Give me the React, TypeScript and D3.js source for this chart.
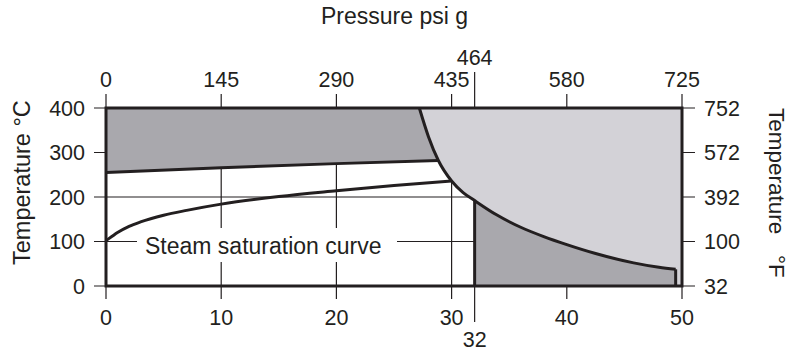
import React from "react";
import * as d3 from "d3";

// Pressure (bar g) ticks and their psi g equivalents
const barTicks = [0, 10, 20, 30, 40, 50];
const psiTickBars = [0, 10, 20, 30, 32, 40, 50];
const psiLabels = ["0", "145", "290", "435", "464", "580", "725"];
const bottomLabels = ["0", "10", "20", "30", "32", "40", "50"];
// Temperature ticks (°C) and their °F labels
const tempTicks = [0, 100, 200, 300, 400];
const fahrLabels = ["32", "100", "392", "572", "752"];

// Steam saturation curve (bar g, °C)
const saturation: [number, number][] = [
  [0, 102], [0.5, 111], [1, 120], [2, 134], [3, 144], [5, 159], [7, 170],
  [10, 184], [15, 201], [20, 214], [25, 226], [30, 236],
];
// Lower boundary of upper (superheat) band
const bandLower: [number, number][] = [
  [0, 255], [10, 266], [20, 275], [28.85, 282],
];
// Boundary curve (bar g, °C)
const boundary: [number, number][] = [
  [27.2, 400], [28.0, 335], [28.85, 282], [30, 236], [31, 210], [32, 192],
  [33.9, 160], [36, 132], [38, 111], [40, 93], [42.5, 73], [45.8, 52],
  [48, 42], [49.45, 37.5],
];

const W = 792, H = 361;
const INK = "#231f20";
const DARK = "#a9a8ad";
const LIGHT = "#d3d2d7";
const FONT = "'Liberation Sans', Arial, Helvetica, sans-serif";

export default function App() {
  const x = d3.scaleLinear().domain([0, 50]).range([106, 682]);
  const y = d3.scaleLinear().domain([0, 400]).range([286, 108]);
  const line = d3
    .line<[number, number]>()
    .x((d) => x(d[0]))
    .y((d) => y(d[1]))
    .curve(d3.curveMonotoneX);
  const poly = d3
    .line<[number, number]>()
    .x((d) => x(d[0]))
    .y((d) => y(d[1]));

  const bIdxBand = boundary.findIndex((d) => d[0] === 28.85);
  const bIdx32 = boundary.findIndex((d) => d[0] === 32);
  const last = boundary[boundary.length - 1];

  // Paths combining smooth curve segments
  const upperCurve = line(boundary.slice(0, bIdxBand + 1)) as string;
  const bandBack = line([...bandLower].reverse() as [number, number][]) as string;
  const bandPath =
    `M${x(0)},${y(400)}L${x(boundary[0][0])},${y(400)}` +
    upperCurve.replace(/^M[^CL]*/, "L" + x(boundary[0][0]) + "," + y(400)) +
    bandBack.replace(/^M/, "L") +
    "Z";

  const fullCurve = line(boundary) as string;
  const lightPath =
    fullCurve +
    `L${x(last[0])},${y(0)}L${x(50)},${y(0)}L${x(50)},${y(400)}Z`;

  const lowerCurve = line(boundary.slice(bIdx32)) as string;
  const darkLowPath =
    lowerCurve + `L${x(last[0])},${y(0)}L${x(32)},${y(0)}Z`;

  const grid = { stroke: INK, strokeWidth: 1.2 };
  const thick = { stroke: INK, strokeWidth: 3, fill: "none" };
  const txt = { fontFamily: FONT, fill: INK, fontSize: 21.5 };

  return (
    <svg
      width={W}
      height={H}
      style={{ position: "absolute", left: 0, top: 0, background: "#fff" }}
    >
      {/* gridlines and ticks */}
      {tempTicks.map((t) => (
        <line key={"h" + t} x1={94} x2={695} y1={y(t)} y2={y(t)} {...grid} />
      ))}
      {barTicks.map((b) => (
        <line key={"v" + b} x1={x(b)} x2={x(b)} y1={94} y2={299} {...grid} />
      ))}
      <line x1={x(32)} x2={x(32)} y1={72} y2={322} {...grid} />

      {/* fills */}
      <path d={lightPath} fill={LIGHT} />
      <path d={darkLowPath} fill={DARK} />
      <path d={bandPath} fill={DARK} />

      {/* label box */}
      <rect x={137} y={228} width={260} height={34} fill="#fff" />

      {/* curves */}
      <path d={line(bandLower) as string} {...thick} />
      <path d={line(saturation) as string} {...thick} />
      <path d={fullCurve} {...thick} />
      <line x1={x(32)} x2={x(32)} y1={y(boundary[bIdx32][1])} y2={y(0)} {...thick} />
      <line x1={x(last[0])} x2={x(last[0])} y1={y(last[1])} y2={y(0)} {...thick} />

      {/* frame */}
      <rect x={x(0)} y={y(400)} width={x(50) - x(0)} height={y(0) - y(400)} {...thick} />

      {/* texts */}
      <text x={394.5} y={24} textAnchor="middle" {...txt} fontSize={23}>
        Pressure psi g
      </text>
      {psiTickBars.map((b, i) => (
        <text
          key={"p" + b}
          x={x(b)}
          y={b === 32 ? 65 : 87}
          textAnchor="middle"
          {...txt}
        >
          {psiLabels[i]}
        </text>
      ))}
      {psiTickBars.map((b, i) => (
        <text
          key={"bb" + b}
          x={x(b)}
          y={b === 32 ? 347 : 325}
          textAnchor="middle"
          {...txt}
        >
          {bottomLabels[i]}
        </text>
      ))}
      {tempTicks.map((t) => (
        <text key={"lt" + t} x={85} y={y(t) + 7.5} textAnchor="end" {...txt}>
          {t}
        </text>
      ))}
      {tempTicks.map((t, i) => (
        <text key={"rt" + t} x={704} y={y(t) + 7.5} textAnchor="start" {...txt}>
          {fahrLabels[i]}
        </text>
      ))}
      <text x={145} y={253.5} {...txt} fontSize={23}>
        Steam saturation curve
      </text>
      <text transform="translate(30,265) rotate(-90)" {...txt} fontSize={23.5}>
        Temperature °C
      </text>
      <text transform="translate(769,108) rotate(90)" {...txt} fontSize={22.5}>
        Temperature
      </text>
      <text transform="translate(769,255) rotate(90)" {...txt} fontSize={22.5}>
        °F
      </text>
    </svg>
  );
}
